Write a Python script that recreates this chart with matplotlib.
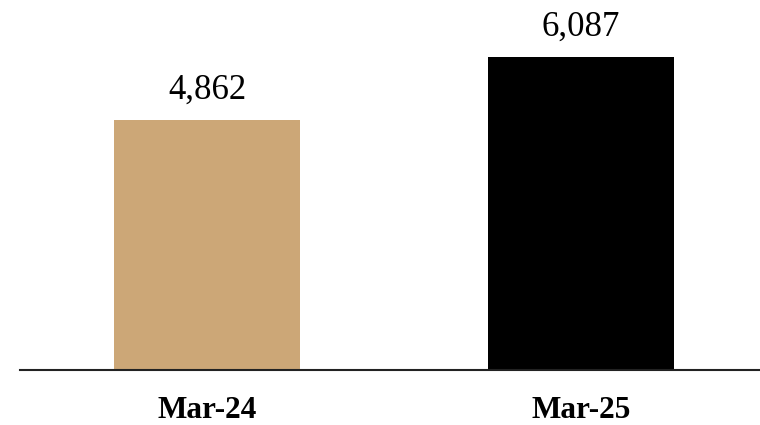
import matplotlib
matplotlib.use("Agg")
import matplotlib.pyplot as plt

# Values per period
categories = ["Mar-24", "Mar-25"]
values = [4862, 6087]
bar_colors = ["#CCA777", "#000000"]

plt.rcParams["font.family"] = ["Liberation Serif", "DejaVu Serif"]

fig = plt.figure(figsize=(7.6, 4.25), dpi=100)
ax = fig.add_axes([20 / 760, 55 / 425, 740 / 760, 370 / 425])

x = list(range(len(categories)))
ax.bar(x, values, width=0.497, color=bar_colors, zorder=2)

for xi, v in zip(x, values):
    ax.annotate(f"{v:,}", xy=(xi, v), xytext=(0, 15.5), textcoords="offset points",
                ha="center", va="baseline", fontsize=25, color="#000000")

ax.set_xlim(-0.5, 1.479)
ax.set_ylim(0, 7195)
ax.set_xticks(x)
ax.set_xticklabels(categories, fontsize=22.5, fontweight="bold", va="baseline")
ax.tick_params(axis="x", length=0, pad=34.5)
ax.set_yticks([])

for side in ["top", "right", "left"]:
    ax.spines[side].set_visible(False)
ax.spines["bottom"].set_linewidth(1.5)
ax.spines["bottom"].set_color("#222222")
ax.spines["bottom"].set_zorder(3)

fig.savefig("out.png", dpi=100)
